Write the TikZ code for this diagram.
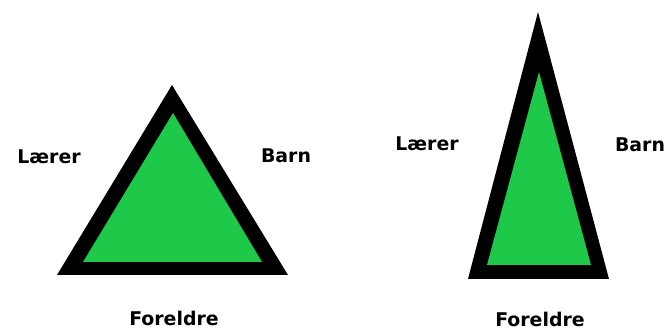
\documentclass[tikz,border=0pt]{standalone}
\usepackage{fontspec}
\setmainfont{DejaVu Sans}
\definecolor{trigreen}{RGB}{30,201,74}
\tikzset{
  lbl/.style={font=\bfseries\fontsize{18.9}{22}\selectfont, inner sep=0pt, anchor=base},
  outer/.style={fill=black},
  inner/.style={fill=trigreen}
}
\begin{document}
\begin{tikzpicture}[x=1pt,y=-1pt]
\useasboundingbox (0,0) rectangle (665,331);
% left triangle
\fill[outer] (172,85) -- (288,275) -- (57,275) -- cycle;
\fill[inner] (173,113) -- (262,262) -- (83,262) -- cycle;
% right triangle
\fill[outer] (538,12) -- (609,279) -- (468,279) -- cycle;
\fill[inner] (539,72) -- (591,265) -- (487,265) -- cycle;
% labels
\node[lbl] (l1) at (49,163.5) {Lærer};
\node[lbl] (b1) at (286,163) {Barn};
\node[lbl] (f1) at (174,326) {Foreldre};
\node[lbl] (l2) at (427,151) {Lærer};
\node[lbl] (b2) at (640,152) {Barn};
\node[lbl] (f2) at (540,327) {Foreldre};
\end{tikzpicture}
\end{document}
